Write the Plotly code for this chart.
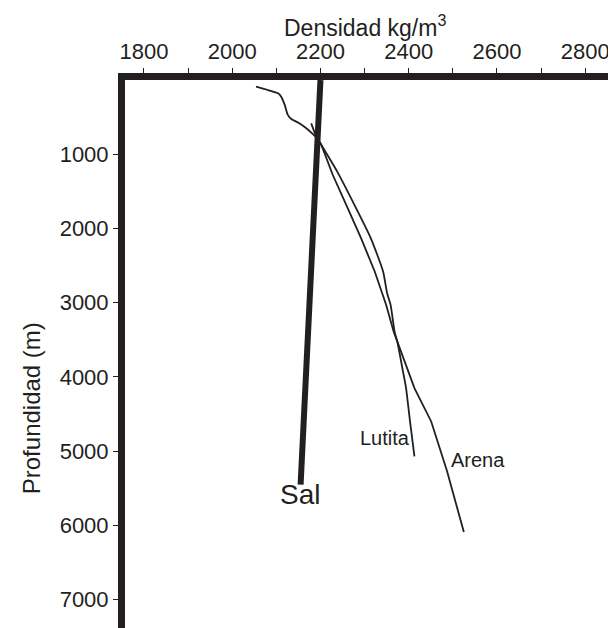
import plotly.graph_objects as go

# ---- data (density kg/m3, depth m) ----
sal_density = [2200, 2155]
sal_depth = [0, 5450]

lutita_density = [2054, 2081, 2104, 2111, 2119, 2126, 2134, 2153, 2168, 2183, 2194, 2202,
                  2238, 2281, 2314, 2342, 2351, 2359, 2368, 2374, 2387, 2394, 2403, 2413]
lutita_depth = [90, 135, 180, 225, 335, 470, 525, 585, 650, 730, 795, 875,
                1235, 1730, 2130, 2580, 2870, 3030, 3390, 3520, 3925, 4150, 4600, 5070]

arena_density = [2179, 2190, 2202, 2228, 2262, 2292, 2323, 2349, 2366, 2374,
                 2398, 2413, 2451, 2487, 2525]
arena_depth = [585, 760, 875, 1280, 1730, 2130, 2580, 3030, 3390, 3520,
               3925, 4150, 4600, 5270, 6090]

x_tickvals = [1800, 2000, 2200, 2400, 2600, 2800]
x_ticktext = ["1800", "2000", "2200", "2400", "2600", "2800"]
x_minorvals = [1900, 2100, 2300, 2500, 2700]
y_tickvals = [1000, 2000, 3000, 4000, 5000, 6000, 7000]
y_ticktext = ["1000", "2000", "3000", "4000", "5000", "6000", "7000"]

INK = "#231f20"
FONT = "Arial, Liberation Sans, sans-serif"

fig = go.Figure()
fig.add_trace(go.Scatter(x=lutita_density, y=lutita_depth, mode="lines",
                         line=dict(color=INK, width=1.8, shape="spline", smoothing=0.6),
                         showlegend=False, hoverinfo="skip"))
fig.add_trace(go.Scatter(x=arena_density, y=arena_depth, mode="lines",
                         line=dict(color=INK, width=1.8),
                         showlegend=False, hoverinfo="skip"))
fig.add_trace(go.Scatter(x=sal_density, y=sal_depth, mode="lines",
                         line=dict(color=INK, width=6),
                         showlegend=False, hoverinfo="skip"))

fig.add_annotation(x=2153, y=5590, text="Sal", showarrow=False,
                   font=dict(family=FONT, size=28, color=INK), xanchor="center", yanchor="middle")
fig.add_annotation(x=2347, y=4820, text="Lutita", showarrow=False,
                   font=dict(family=FONT, size=20, color=INK), xanchor="center", yanchor="middle")
fig.add_annotation(x=2557, y=5115, text="Arena", showarrow=False,
                   font=dict(family=FONT, size=20, color=INK), xanchor="center", yanchor="middle")

# axis titles
fig.add_annotation(x=0.48, y=1.0965, xref="paper", yref="paper", text="Densidad kg/m<sup>3</sup>",
                   showarrow=False, font=dict(family=FONT, size=23, color=INK),
                   xanchor="center", yanchor="middle")
fig.add_annotation(x=-0.188, y=0.41, xref="paper", yref="paper", text="Profundidad (m)",
                   showarrow=False, textangle=-90, font=dict(family=FONT, size=24, color=INK),
                   xanchor="center", yanchor="middle")

fig.update_layout(
    width=616, height=628,
    margin=dict(l=117, r=0, t=72, b=0, autoexpand=False),
    paper_bgcolor="white", plot_bgcolor="white",
    font=dict(family=FONT, color=INK),
    xaxis=dict(side="top", range=[1757, 2888], tickvals=x_tickvals, ticktext=x_ticktext,
               ticks="outside", ticklen=5, tickwidth=1, tickcolor=INK,
               minor=dict(tickvals=x_minorvals, ticks="outside", ticklen=5, tickwidth=1,
                          tickcolor=INK, showgrid=False),
               showline=True, linewidth=7, linecolor=INK, showgrid=False, zeroline=False,
               automargin=False, tickfont=dict(family=FONT, size=22, color=INK)),
    yaxis=dict(range=[7490, 0], tickvals=y_tickvals, ticktext=y_ticktext,
               ticks="outside", ticklen=5, tickwidth=1, tickcolor=INK,
               showline=True, linewidth=7, linecolor=INK, showgrid=False, zeroline=False,
               automargin=False, tickfont=dict(family=FONT, size=22, color=INK)),
)

fig.write_html("out.html")
